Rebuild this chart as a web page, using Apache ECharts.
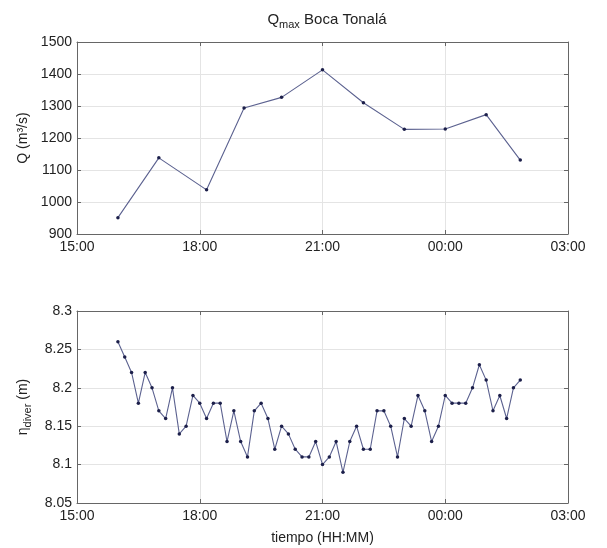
<!DOCTYPE html>
<html>
<head>
<meta charset="utf-8">
<script src="https://cdn.jsdelivr.net/npm/echarts@6/dist/echarts.min.js"></script>
<style>
  html, body { margin: 0; padding: 0; background: #fff; }
  #chart { width: 607px; height: 548px; }
</style>
</head>
<body>
<div id="chart"></div>
<script>
// caudal maximo (horas aprox.)
let qTimes = ['16:00', '17:00', '18:10', '19:05', '20:00', '21:00', '22:00', '23:00', '00:00', '01:00', '01:50']
let qValues = [951, 1138, 1038, 1294, 1327, 1413, 1310, 1227, 1228, 1273, 1131]

// nivel diver cada 10 min desde 16:00
let etaStart = '16:00'
let etaValues = [
  8.26, 8.24, 8.22, 8.18, 8.22, 8.20, 8.17, 8.16, 8.20, 8.14,
  8.15, 8.19, 8.18, 8.16, 8.18, 8.18, 8.13, 8.17, 8.13, 8.11,
  8.17, 8.18, 8.16, 8.12, 8.15, 8.14, 8.12, 8.11, 8.11, 8.13,
  8.10, 8.11, 8.13, 8.09, 8.13, 8.15, 8.12, 8.12, 8.17, 8.17,
  8.15, 8.11, 8.16, 8.15, 8.19, 8.17, 8.13, 8.15, 8.19, 8.18,
  8.18, 8.18, 8.20, 8.23, 8.21, 8.17, 8.19, 8.16, 8.20, 8.21
]

let xTicks = ['15:00', '18:00', '21:00', '00:00', '03:00']

var myChart = echarts.init(document.getElementById('chart'))

function toHours(str) {
  let h = Number(str.split(':')[0])
  let m = Number(str.split(':')[1])
  if (h < 15) h += 24
  return h + m / 60
}

function fillZero(val) {
  return val > 9 ? val : '0' + val
}

function fmtHour(val) {
  let h = Math.round(val) % 24
  return fillZero(h) + ':00'
}

let qData = qTimes.map((t, i) => [toHours(t), qValues[i]])
let etaData = etaValues.map((v, i) => [toHours(etaStart) + i / 6, v])

const font = 'Liberation Sans, Arial, sans-serif'
const txtColor = '#222'
const axisColor = '#666'
const lineColor = '#5c6290'
const dotColor = '#1c1f4a'
const xMin = toHours(xTicks[0])
const xMax = toHours(xTicks[xTicks.length - 1])

function xAxisBase(gridIndex, showLabel, pos) {
  return {
    type: 'value', gridIndex: gridIndex, min: xMin, max: xMax, interval: 3,
    position: pos,
    axisLine: { show: true, onZero: false, lineStyle: { color: axisColor, width: 1 } },
    axisTick: { show: true, inside: true, length: 4, lineStyle: { color: axisColor } },
    axisLabel: { show: showLabel, formatter: fmtHour, color: txtColor, fontSize: 14, fontFamily: font, margin: 6 },
    splitLine: { show: pos === 'bottom', lineStyle: { color: '#e4e4e4', width: 1 } }
  }
}

function yAxisBase(gridIndex, min, max, interval, showLabel, pos, fmt) {
  return {
    type: 'value', gridIndex: gridIndex, min: min, max: max, interval: interval,
    position: pos,
    axisLine: { show: true, lineStyle: { color: axisColor, width: 1 } },
    axisTick: { show: true, inside: true, length: 4, lineStyle: { color: axisColor } },
    axisLabel: { show: showLabel, formatter: fmt, color: txtColor, fontSize: 14, fontFamily: font, margin: 5 },
    splitLine: { show: pos === 'left', lineStyle: { color: '#e4e4e4', width: 1 } }
  }
}

let yTop = yAxisBase(0, 900, 1500, 100, true, 'left', v => String(v))
yTop.name = 'Q (m³/s)'
yTop.nameLocation = 'middle'
yTop.nameGap = 44
yTop.nameTextStyle = { color: txtColor, fontSize: 14, fontFamily: font }

let yBot = yAxisBase(1, 8.05, 8.3, 0.05, true, 'left', v => String(Math.round(v * 100) / 100))
yBot.name = '{a|η}{s|diver}{a| (m)}'
yBot.nameLocation = 'middle'
yBot.nameGap = 44
yBot.nameTextStyle = {
  color: txtColor, fontFamily: font,
  rich: {
    a: { fontSize: 14, fontFamily: font, color: txtColor },
    s: { fontSize: 11, fontFamily: font, color: txtColor, padding: [9, 0, 0, 0] }
  }
}

let xBot = xAxisBase(1, true, 'bottom')
xBot.name = 'tiempo (HH:MM)'
xBot.nameLocation = 'middle'
xBot.nameGap = 28
xBot.nameTextStyle = { color: txtColor, fontSize: 14, fontFamily: font }

let option = {
  animation: false,
  backgroundColor: '#fff',
  title: {
    text: '{a|Q}{s|max}{a| Boca Tonalá}',
    left: 322, top: 4, textAlign: 'center',
    textStyle: {
      fontWeight: 'normal',
      rich: {
        a: { fontSize: 15, fontFamily: font, color: txtColor, fontWeight: 'normal' },
        s: { fontSize: 11, fontFamily: font, color: txtColor, fontWeight: 'normal', padding: [10, 0, 0, 0] }
      }
    }
  },
  grid: [
    { left: 77, top: 42, width: 491, height: 192 },
    { left: 77, top: 311, width: 491, height: 192 }
  ],
  xAxis: [
    xAxisBase(0, true, 'bottom'),
    xAxisBase(0, false, 'top'),
    xBot,
    xAxisBase(1, false, 'top')
  ],
  yAxis: [
    yTop,
    yAxisBase(0, 900, 1500, 100, false, 'right'),
    yBot,
    yAxisBase(1, 8.05, 8.3, 0.05, false, 'right')
  ],
  series: [
    {
      type: 'line', xAxisIndex: 0, yAxisIndex: 0, data: qData,
      symbol: 'circle', symbolSize: 3.5,
      lineStyle: { color: lineColor, width: 1.1 },
      itemStyle: { color: dotColor }
    },
    {
      type: 'line', xAxisIndex: 2, yAxisIndex: 2, data: etaData,
      symbol: 'circle', symbolSize: 3.5,
      lineStyle: { color: lineColor, width: 1.1 },
      itemStyle: { color: dotColor }
    }
  ]
}

myChart.setOption(option)
</script>
</body>
</html>
